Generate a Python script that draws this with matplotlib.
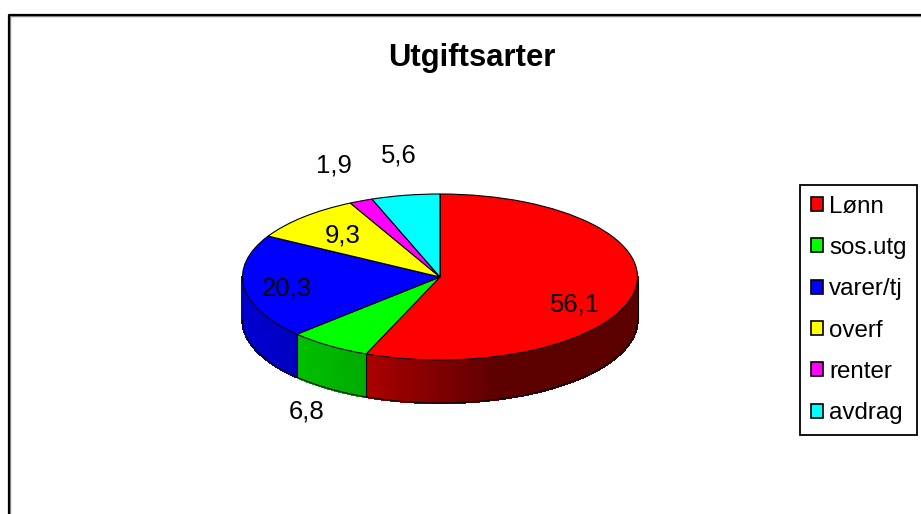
#!/usr/bin/env python3
# utgiftsarter, 3d look pie
import numpy as np
import matplotlib
matplotlib.use("Agg")
from matplotlib import pyplot as plt
from matplotlib.patches import Patch, Polygon
from matplotlib.lines import Line2D
from matplotlib.colors import to_rgb

W, H = 921, 514
categories = ["Lønn", "sos.utg", "varer/tj", "overf", "renter", "avdrag"]
values = [56.1, 6.8, 20.3, 9.3, 1.9, 5.6]
colors = ["#ff0000", "#00ff00", "#0000ff", "#ffff00", "#ff00ff", "#00ffff"]
title = "Utgiftsarter"

# pie geometry in pixels
CX, CY, RX, RY, DEPTH = 440, 277, 197.5, 83, 43
# where the value labels sit, pixels
label_px = [(575, 304), (307, 412), (287, 288), (343, 235), (334, 165), (399, 155)]

plt.rcParams["font.family"] = ["Liberation Sans", "DejaVu Sans"]
fig = plt.figure(figsize=(W / 100, H / 100), dpi=100)
ax = fig.add_axes([0, 0, 1, 1])

wedges, _ = ax.pie(values, colors=colors, startangle=90, counterclock=False,
                   wedgeprops=dict(edgecolor="black", linewidth=0.8, zorder=5))
ax.set_aspect("auto")
ax.set_xlim((0 - CX) / RX, (W - CX) / RX)
ax.set_ylim((CY - H) / RY, CY / RY)
ax.axis("off")
d = DEPTH / RY


def shade(x):
    return np.interp(x, [-1, -0.37, 0.3, 1], [0.82, 0.67, 0.36, 0.36])


# side wall, only the front half of the rim shows
edges = 90 - np.cumsum([0] + values) * 3.6
for i in range(len(values)):
    hi, lo = edges[i], edges[i + 1]
    for start in (hi, hi - 360):
        a = max(lo - (hi - start), -180)
        b = min(start, 0)
        if a >= b:
            continue
        th = np.radians(np.linspace(a, b, max(2, int((b - a) / 1.5) + 1)))
        x = np.cos(th)
        y = np.sin(th)
        rgb = np.array(to_rgb(colors[i]))
        for j in range(len(th) - 1):
            c = rgb * shade((x[j] + x[j + 1]) / 2)
            ax.add_patch(Polygon([(x[j], y[j]), (x[j + 1], y[j + 1]),
                                  (x[j + 1], y[j + 1] - d), (x[j], y[j] - d)],
                                 facecolor=c, edgecolor=c, linewidth=1.0,
                                 antialiased=False, zorder=2))

# outline of the wall
th = np.radians(np.linspace(-180, 0, 200))
ax.plot(np.cos(th), np.sin(th) - d, color="black", lw=0.8, zorder=3)
ax.plot([-1, -1], [0, -d], color="black", lw=0.8, zorder=3)
ax.plot([1, 1], [0, -d], color="black", lw=0.8, zorder=3)
for e in edges:
    t = np.radians(e)
    if np.sin(t) < 0:
        ax.plot([np.cos(t)] * 2, [np.sin(t), np.sin(t) - d], color="black", lw=0.8, zorder=3)

for v, (px, py) in zip(values, label_px):
    ax.text((px - CX) / RX, (CY - py) / RY, f"{v:.1f}".replace(".", ","),
            fontsize=18.5, ha="center", va="center", color="black", zorder=6)

fig.text(472 / W, 1 - 58 / H, title, fontsize=22.3, fontweight="bold", ha="center", va="center")

handles = [Patch(facecolor=c, edgecolor="black", linewidth=1.2) for c in colors]
leg = ax.legend(handles, categories, loc="upper left",
                bbox_to_anchor=(800 / W, 1 - 185 / H), bbox_transform=fig.transFigure,
                fontsize=17.4, frameon=True, fancybox=False, framealpha=1, edgecolor="black",
                handlelength=0.52, handleheight=0.52, handletextpad=0.24,
                labelspacing=0.80, borderpad=0.44, borderaxespad=0)
leg.get_frame().set_linewidth(1.3)

# outer chart border, runs off the picture right and below
for off, col, lw in ((1.2, "#909090", 1.0), (0, "black", 1.6)):
    fig.add_artist(Line2D([(9 + off) / W, (9 + off) / W, 1], [0, 1 - (15 + off) / H, 1 - (15 + off) / H],
                          color=col, lw=lw))

fig.savefig("out.png", dpi=100)
